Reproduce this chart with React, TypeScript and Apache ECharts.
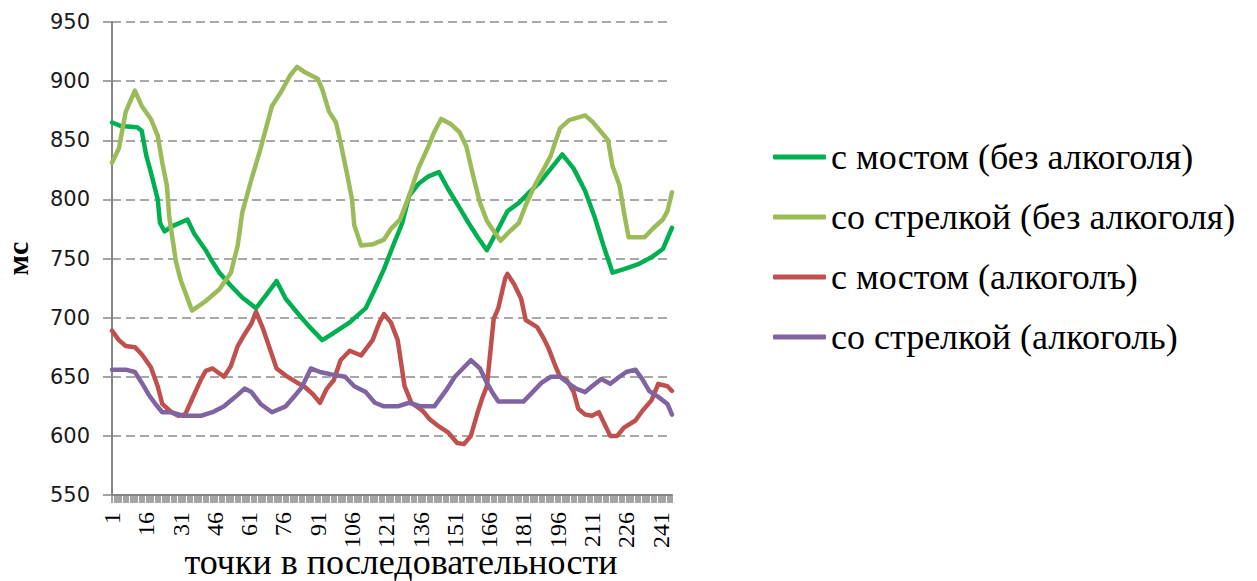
import React, { useEffect, useRef } from "react";
import * as echarts from "echarts";

// categories: points 1..246
const categories: string[] = Array.from({ length: 246 }, (_, i) => String(i + 1));

const yTicks = { min: 550, max: 950, step: 50 };

const seriesNames = [
  "с мостом (без алкоголя)",
  "со стрелкой (без алкоголя)",
  "с мостом (алкоголъ)",
  "со стрелкой (алкоголь)",
];

// [category index, value] vertices
const bridgeNoAlcohol: [number, number][] = [
  [0, 865], [4, 862], [11, 861], [13, 858], [15, 837], [17, 823], [20, 800], [21, 780],
  [23, 773], [26, 777], [33, 783], [36, 771], [41, 757], [44, 747], [47, 738], [52, 727],
  [57, 717], [63, 708], [67, 718], [72, 731], [76, 716], [82, 702], [86, 693], [92, 681],
  [97, 687], [104, 696], [111, 708], [115, 724], [119, 741], [123, 761], [127, 780],
  [130, 803], [134, 813], [138, 819], [143, 823], [147, 809], [152, 793], [156, 780],
  [160, 768], [164, 757], [169, 775], [173, 790], [178, 797], [182, 805], [187, 814],
  [192, 826], [197, 838], [202, 826], [207, 807], [211, 786], [215, 761], [219, 738],
  [224, 741], [230, 745], [236, 751], [241, 758], [245, 776],
];

const arrowNoAlcohol: [number, number][] = [
  [0, 831], [3, 843], [6, 874], [10, 892], [13, 879], [17, 868], [20, 854], [22, 831],
  [24, 812], [25, 786], [28, 747], [30, 732], [35, 706], [41, 714], [47, 724], [52, 738],
  [55, 761], [57, 789], [61, 817], [65, 843], [70, 879], [74, 891], [78, 905], [81, 912],
  [84, 908], [90, 902], [92, 893], [95, 874], [98, 865], [100, 848], [103, 820], [105, 800],
  [106, 778], [109, 761], [114, 762], [119, 766], [122, 775], [126, 783], [130, 803],
  [134, 826], [138, 843], [141, 857], [144, 868], [148, 864], [152, 857], [155, 845],
  [158, 820], [161, 797], [164, 782], [166, 776], [170, 765], [174, 773], [178, 780],
  [181, 795], [185, 812], [189, 826], [192, 837], [194, 849], [196, 860], [200, 867],
  [207, 871], [210, 866], [214, 857], [217, 850], [219, 828], [222, 812], [224, 789],
  [226, 768], [233, 768], [237, 776], [241, 783], [243, 790], [245, 806],
];

const bridgeAlcohol: [number, number][] = [
  [0, 689], [3, 681], [6, 676], [10, 675], [13, 669], [17, 658], [20, 642], [22, 627],
  [26, 620], [29, 617], [32, 618], [35, 631], [39, 648], [41, 655], [44, 657], [49, 650],
  [52, 659], [55, 676], [58, 686], [61, 695], [63, 705], [66, 691], [69, 674], [72, 657],
  [76, 651], [81, 645], [84, 642], [88, 635], [91, 628], [94, 640], [97, 647], [100, 664],
  [104, 672], [109, 668], [114, 681], [117, 696], [119, 703], [122, 696], [125, 681],
  [128, 642], [131, 628], [136, 621], [139, 614], [143, 608], [147, 603], [151, 594],
  [154, 593], [157, 600], [160, 620], [162, 632], [164, 642], [167, 699], [169, 708],
  [172, 733], [173, 737], [176, 728], [179, 716], [181, 698], [186, 692], [189, 682],
  [191, 674], [194, 659], [196, 650], [199, 647], [202, 637], [204, 623], [207, 618],
  [210, 617], [213, 620], [216, 608], [218, 600], [221, 600], [224, 607], [229, 613],
  [232, 621], [236, 630], [239, 644], [243, 642], [245, 638],
];

const arrowAlcohol: [number, number][] = [
  [0, 656], [6, 656], [10, 654], [13, 645], [16, 635], [19, 627], [22, 620], [26, 620],
  [31, 617], [39, 617], [44, 620], [49, 625], [54, 633], [58, 640], [61, 637], [65, 627],
  [70, 620], [76, 625], [80, 634], [83, 641], [87, 657], [91, 654], [96, 652], [102, 650],
  [106, 642], [111, 637], [115, 628], [119, 625], [125, 625], [130, 628], [135, 625],
  [141, 625], [146, 638], [150, 650], [154, 658], [157, 664], [161, 657], [164, 645],
  [166, 638], [169, 629], [180, 629], [184, 637], [188, 645], [192, 650], [196, 650],
  [200, 644], [203, 640], [207, 637], [210, 642], [214, 648], [218, 644], [222, 650],
  [225, 654], [229, 656], [232, 648], [235, 638], [239, 633], [243, 627], [245, 618],
];

const seriesData = [bridgeNoAlcohol, arrowNoAlcohol, bridgeAlcohol, arrowAlcohol];
const colors = ["#00b050", "#9bbb59", "#c0504d", "#8064a2"];

const SERIF = "'Liberation Serif', 'Times New Roman', Times, serif";

export default function App() {
  const ref = useRef<HTMLDivElement>(null);
  useEffect(() => {
    if (!ref.current) return;
    const chart = echarts.init(ref.current, undefined, { renderer: "svg" });
    const axisGray = "#868686";
    chart.setOption({
      animation: false,
      backgroundColor: "#ffffff",
      color: colors,
      grid: {
        left: 112,
        top: 22,
        width: 560,
        height: 473,
        containLabel: false,
        outerBoundsMode: "none",
      },
      legend: {
        orient: "vertical",
        left: 768,
        top: 134,
        itemWidth: 53,
        itemHeight: 5,
        itemGap: 24,
        icon: "roundRect",
        textStyle: { fontFamily: SERIF, fontSize: 36, color: "#000" },
        data: seriesNames,
      },
      xAxis: {
        type: "category",
        data: categories,
        boundaryGap: false,
        axisLine: { lineStyle: { color: axisGray, width: 2 } },
        axisTick: { show: true, interval: 0, length: 8, lineStyle: { color: axisGray, width: 1.5 } },
        axisLabel: {
          interval: 14,
          rotate: 90,
          margin: 17,
          fontFamily: SERIF,
          fontSize: 24,
          color: "#000",
        },
        splitLine: { show: false },
        name: "точки в последовательности",
        nameLocation: "middle",
        nameGap: 49,
        nameMoveOverlap: false,
        nameTextStyle: {
          fontFamily: SERIF,
          fontSize: 36,
          color: "#000",
          verticalAlign: "top",
          padding: [0, 0, 0, 18],
        },
      },
      yAxis: {
        type: "value",
        min: yTicks.min,
        max: yTicks.max,
        interval: yTicks.step,
        axisLine: { show: true, lineStyle: { color: axisGray, width: 2 } },
        axisTick: { show: true, length: 9, lineStyle: { color: axisGray, width: 1.5 } },
        axisLabel: { margin: 22, fontFamily: "'DejaVu Sans', Verdana, sans-serif", fontSize: 21, color: "#1a1a1a" },
        splitLine: { show: true, lineStyle: { color: "#8c8c8c", width: 1.5, type: [9, 5] } },
        name: "мс",
        nameLocation: "middle",
        nameRotate: 90,
        nameGap: 80,
        nameMoveOverlap: false,
        nameTextStyle: { fontFamily: SERIF, fontSize: 30, fontWeight: "bold", color: "#000" },
      },
      series: seriesNames.map((name, k) => ({
        name,
        type: "line",
        data: seriesData[k],
        symbol: "none",
        smooth: false,
        lineStyle: { width: 4.5, color: colors[k], cap: "round", join: "round" },
        itemStyle: { color: colors[k] },
      })),
    });
    return () => chart.dispose();
  }, []);
  return (
    <div
      ref={ref}
      style={{ position: "absolute", left: 0, top: 0, width: 1257, height: 581 }}
    />
  );
}
